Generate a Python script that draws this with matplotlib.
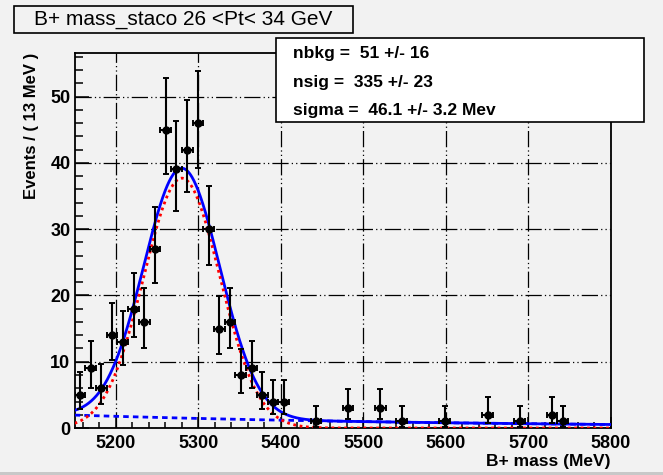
import numpy as np
import matplotlib
matplotlib.use("Agg")
import matplotlib.pyplot as plt
from matplotlib.patches import Rectangle
from matplotlib.ticker import MultipleLocator

plt.rcParams['font.family'] = ['Liberation Sans', 'DejaVu Sans']

# histogram: 13 MeV bins from 5150 to 5800, only non-empty bins are drawn
bin_lo = 5150.0
bin_width = 13.0
bin_index = [1, 2, 3, 4, 5, 6, 7, 8, 9, 10, 11, 12, 13, 14, 15, 16, 17, 18, 19, 20,
             23, 26, 29, 31, 35, 39, 42, 45, 46]
counts = [5, 9, 6, 14, 13, 18, 16, 27, 45, 39, 42, 46, 30, 15, 16, 8, 9, 5, 4, 4,
          1, 3, 3, 1, 1, 2, 1, 2, 1]

# fit results
nbkg, nbkg_err = 51, 16
nsig, nsig_err = 335, 23
sigma, sigma_err = 46.1, 3.2
mean = 5280.0
bkg_at_lo = 1.95      # background level (events/bin) at 5150
bkg_slope = 0.002     # exponential slope per MeV

title = "B+ mass_staco 26 <Pt< 34 GeV"
xlabel = "B+ mass (MeV)"
ylabel = "Events / ( 13 MeV )"

bg = '#f2f2f2'
gridstyle = (0, (13, 2.5, 1, 2.5, 1, 2.5))

centers = bin_lo + bin_width * (np.array(bin_index) - 0.5)
n = np.array(counts, dtype=float)
# approximate poisson (68%) intervals, Gehrels
up = np.sqrt(n + 0.75) + 1.0
lo = n - n * (1 - 1 / (9 * n) - 1 / (3 * np.sqrt(n))) ** 3

fig = plt.figure(figsize=(6.63, 4.75), dpi=100, facecolor=bg)
ax = fig.add_axes([0.1125, 0.0989, 0.809, 0.790])
ax.set_facecolor(bg)

x = np.linspace(5150, 5800, 800)
sig = nsig * bin_width / (sigma * np.sqrt(2 * np.pi)) * np.exp(-0.5 * ((x - mean) / sigma) ** 2)
bkg = bkg_at_lo * np.exp(-bkg_slope * (x - bin_lo))
tot = sig + bkg

ax.plot(x, bkg, color='#0000ff', lw=2, ls=(0, (2, 1.5)), zorder=3)
ax.plot(x, tot, color='#0000ff', lw=2, zorder=3)
ax.plot(x, sig, color='#ff0000', lw=2, ls=(0, (1, 1.3)), zorder=4)

ax.errorbar(centers, n, yerr=[lo, up], xerr=bin_width / 2, fmt='o', ms=5,
            color='black', ecolor='black', elinewidth=1.5, capsize=2,
            capthick=1.4, zorder=5)

ax.set_xlim(5150, 5800)
ax.set_ylim(0, 56.6)
ax.xaxis.set_major_locator(MultipleLocator(100))
ax.xaxis.set_minor_locator(MultipleLocator(20))
ax.yaxis.set_major_locator(MultipleLocator(10))
ax.yaxis.set_minor_locator(MultipleLocator(2))
ax.grid(True, which='major', color='black', lw=0.9, ls=gridstyle)
ax.set_axisbelow(True)

ax.tick_params(axis='both', which='both', direction='in', top=False, right=False,
               color='black', width=1.1)
ax.tick_params(axis='x', which='major', length=8, pad=5, labelsize=13)
ax.tick_params(axis='x', which='minor', length=4)
ax.tick_params(axis='y', which='major', length=10, pad=3, labelsize=13)
ax.tick_params(axis='y', which='minor', length=6)
for lab in ax.get_xticklabels() + ax.get_yticklabels():
    lab.set_fontweight('bold')
for sp in ax.spines.values():
    sp.set_linewidth(1.3)
    sp.set_color('black')

fig.text(31.7 / 663, 1 - 53 / 475, ylabel, rotation=90, ha='center', va='top',
         fontsize=12, fontweight='bold')
fig.text(611 / 663, 1 - 461.5 / 475, xlabel, ha='right', va='center',
         fontsize=12.5, fontweight='bold')

# title box
fig.patches.append(Rectangle((13.5 / 663, 1 - 33.3 / 475), 339.5 / 663, 27.6 / 475,
                             transform=fig.transFigure, facecolor=bg,
                             edgecolor='black', lw=1.2, zorder=6))
fig.text(183.5 / 663, 1 - 19.5 / 475, title, ha='center', va='center',
         fontsize=15, zorder=7)

# parameter box
fig.patches.append(Rectangle((276 / 663, 1 - 121.7 / 475), 368 / 663, 83.4 / 475,
                             transform=fig.transFigure, facecolor='white',
                             edgecolor='black', lw=1.2, zorder=6))
lines = [f"nbkg =  {nbkg} +/- {nbkg_err}",
         f"nsig =  {nsig} +/- {nsig_err}",
         f"sigma =  {sigma} +/- {sigma_err} Mev"]
for txt, yc in zip(lines, [53.3, 82.7, 110.0]):
    fig.text(293.3 / 663, 1 - yc / 475, txt, ha='left', va='center',
             fontsize=12.5, fontweight='bold', zorder=7)

# window edge at the bottom
fig.patches.append(Rectangle((0, 0), 1, 3 / 475, transform=fig.transFigure,
                             facecolor='#c8c8c8', edgecolor='none', zorder=6))

fig.savefig("out.png", dpi=100, facecolor=bg)
